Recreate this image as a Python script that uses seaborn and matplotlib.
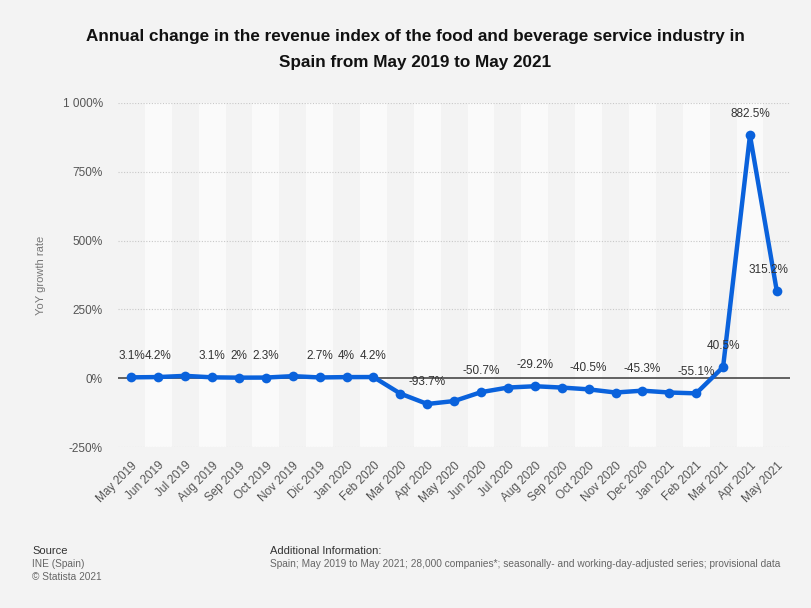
import matplotlib
matplotlib.use("Agg")
import matplotlib.pyplot as plt
import seaborn as sns
import pandas as pd
from matplotlib.ticker import FuncFormatter

months = ["May 2019", "Jun 2019", "Jul 2019", "Aug 2019", "Sep 2019", "Oct 2019",
          "Nov 2019", "Dic 2019", "Jan 2020", "Feb 2020", "Mar 2020", "Apr 2020",
          "May 2020", "Jun 2020", "Jul 2020", "Aug 2020", "Sep 2020", "Oct 2020",
          "Nov 2020", "Dec 2020", "Jan 2021", "Feb 2021", "Mar 2021", "Apr 2021",
          "May 2021"]
growth = [3.1, 4.2, 8.5, 3.1, 2.0, 2.3, 7.5, 2.7, 4.0, 4.2, -56.0, -93.7,
          -83.0, -50.7, -34.0, -29.2, -34.0, -40.5, -52.0, -45.3, -52.0, -55.1,
          40.5, 882.5, 315.2]
# points that carry a value label
labelled = ["May 2019", "Jun 2019", "Aug 2019", "Sep 2019", "Oct 2019", "Dic 2019",
            "Jan 2020", "Feb 2020", "Apr 2020", "Jun 2020", "Aug 2020", "Oct 2020",
            "Dec 2020", "Feb 2021", "Mar 2021", "Apr 2021", "May 2021"]
y_ticks = [-250, 0, 250, 500, 750, 1000]

BG = "#f3f3f3"
BAND = "#fafafa"
BLUE = "#0a62dc"

sns.set_theme(style="white")
plt.rcParams["font.family"] = ["Liberation Sans", "DejaVu Sans"]

df = pd.DataFrame({"pos": range(len(months)), "month": months, "growth": growth})

fig = plt.figure(figsize=(8.11, 6.08), dpi=100, facecolor=BG)
ax = fig.add_axes([0.1455, 0.2648, 0.829, 0.5658])
ax.set_facecolor(BG)

# alternating column bands
for i in range(len(months)):
    if i % 2 == 1:
        ax.axvspan(i - 0.5, i + 0.5, color=BAND, zorder=0, lw=0)

for t in y_ticks:
    if t != 0:
        ax.axhline(t, color="#c8c8c8", lw=0.8, ls=(0, (1, 1.5)), zorder=1)
ax.axhline(0, color="#555555", lw=1.3, zorder=2)

sns.lineplot(data=df, x="pos", y="growth", ax=ax, color=BLUE, lw=3.2,
             marker="o", markersize=7, markeredgewidth=0, zorder=3)

for p, m, v in zip(df["pos"], months, growth):
    if m in labelled:
        dx = -6 if p == len(months) - 1 else 0
        ax.annotate(f"{v:g}%", (p, v), xytext=(dx, 15.5), textcoords="offset points",
                    ha="center", va="center", fontsize=8.5, color="#333333", zorder=4)

ax.set_xlim(-0.5, len(months) - 0.5)
ax.set_ylim(-250, 1000)
ax.set_xticks(range(len(months)))
ax.set_xticklabels(months, rotation=45, ha="right", rotation_mode="anchor",
                   fontsize=8.5, color="#555555")
ax.set_yticks(y_ticks)
ax.yaxis.set_major_formatter(FuncFormatter(lambda v, _: f"{int(v):,}%".replace(",", " ")))
ax.tick_params(axis="y", labelsize=8.5, labelcolor="#555555", length=0, pad=11)
ax.tick_params(axis="x", length=0, pad=9)
ax.set_xlabel("")
ax.set_ylabel("YoY growth rate", fontsize=8, color="#777777", labelpad=12)
for s in ax.spines.values():
    s.set_visible(False)

fig.text(0.512, 1 - 36 / 608, "Annual change in the revenue index of the food and beverage service industry in",
         ha="center", va="center", fontsize=12.3, fontweight="bold", color="#111111")
fig.text(0.512, 1 - 62 / 608, "Spain from May 2019 to May 2021",
         ha="center", va="center", fontsize=12.3, fontweight="bold", color="#111111")

fig.text(32 / 811, 1 - 551 / 608, "Source", fontsize=8, color="#333333", va="center")
fig.text(32 / 811, 1 - 564 / 608, "INE (Spain)", fontsize=7.3, color="#666666", va="center")
fig.text(32 / 811, 1 - 577 / 608, "© Statista 2021", fontsize=7.3, color="#666666", va="center")
fig.text(270 / 811, 1 - 551 / 608, "Additional Information:", fontsize=8, color="#333333", va="center")
fig.text(270 / 811, 1 - 564 / 608,
         "Spain; May 2019 to May 2021; 28,000 companies*; seasonally- and working-day-adjusted series; provisional data",
         fontsize=7.3, color="#666666", va="center")

fig.savefig("out.png", dpi=100, facecolor=BG)
